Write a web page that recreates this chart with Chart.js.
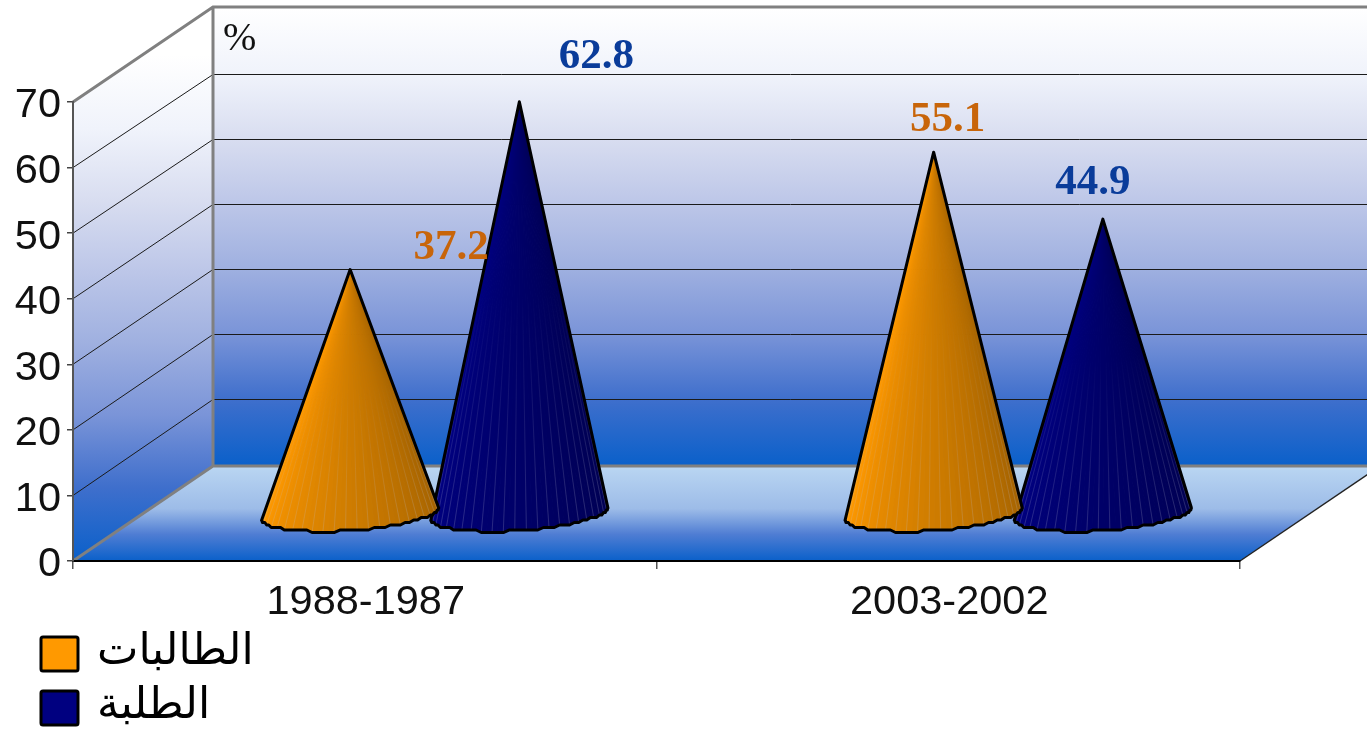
<!DOCTYPE html>
<html>
<head>
<meta charset="utf-8">
<style>html,body{margin:0;padding:0;background:#fff}canvas{display:block}</style>
<script src="https://cdn.jsdelivr.net/npm/chart.js@4/dist/chart.umd.js"></script>
</head>
<body>
<canvas id="c" width="1367" height="730"></canvas>
<script>
const categories = ['1988-1987', '2003-2002'];
const femaleLabel = 'الطالبات';
const maleLabel = 'الطلبة';
const femaleValues = [37.2, 55.1];
const maleValues = [62.8, 44.9];
const unitLabel = '%';

// 3D projection of the chart box (style only)
const DEPTH_X = 140, DEPTH_Y = -95;
const WALL_STOPS = [[0,'#FFFFFF'],[.146,'#F0F3FB'],[.288,'#D8DDF0'],[.43,'#BCC6E8'],[.57,'#9FB0E0'],[.712,'#7A94D8'],[.854,'#3F6FCC'],[1,'#0A60CA']];
const FLOOR_STOPS = [[0,'#BAD6F2'],[.45,'#9DBCE8'],[.72,'#4F7DD3'],[1,'#0A60CA']];
const LABEL_SHIFT = { '0:0':[101,-22], '1:0':[77,-45], '0:1':[14,-32], '1:1':[-10,-36] };
const LABEL_COLORS = ['#C8650A', '#0A3C9A'];

function gradient(ctx, y0, y1, stops) {
  const g = ctx.createLinearGradient(0, y0, 0, y1);
  stops.forEach(s => g.addColorStop(s[0], s[1]));
  return g;
}
function hexRgb(h) { return [1,3,5].map(i => parseInt(h.substr(i,2),16)); }

// Bars are drawn as cones standing halfway along the depth of the box.
Chart.BarElement.prototype.draw = function (ctx) {
  const { x, y, base, width } = this.getProps(['x','y','base','width']);
  const cx = x + DEPTH_X / 2, ax = cx, ay = y + DEPTH_Y / 2;
  const cy = base + DEPTH_Y / 2 + 1.5;
  const rx = width * 0.525, ry = 17.5, rot = -0.07;
  const N = 48, pts = [];
  for (let i = 0; i <= N; i++) {
    const t = Math.PI * i / N;               // right tip -> bottom -> left tip
    const ex = rx * Math.cos(t), ey = ry * Math.sin(t);
    const px = cx + ex * Math.cos(rot) - ey * Math.sin(rot);
    const py = cy + ex * Math.sin(rot) + ey * Math.cos(rot);
    pts.push([px, (i === 0 || i === N) ? py : Math.floor(py / 2.5) * 2.5 ]);
  }
  const rgb = hexRgb(this.options.backgroundColor);
  const shade = k => {
    const f = 0.62 + 0.42 * k * (1 - 0.1 * Math.sin(Math.PI * k));
    return rgb.map(c => Math.min(255, Math.round(c * f)));
  };
  ctx.save();
  for (let i = 0; i < N; i++) {
    const col = `rgb(${shade((i + .5) / N).join(',')})`;
    ctx.fillStyle = col;
    ctx.strokeStyle = col;
    ctx.lineWidth = 1;
    ctx.beginPath();
    ctx.moveTo(ax, ay);
    ctx.lineTo(pts[i][0], pts[i][1]);
    ctx.lineTo(pts[i+1][0], pts[i+1][1]);
    ctx.closePath();
    ctx.fill();
    ctx.stroke();
  }
  // faint ribs fading toward the apex
  for (let i = 1; i < N; i += 2) {
    const p = pts[i], k = 0.45;
    const g = ctx.createLinearGradient(0, ay + (p[1] - ay) * k, 0, p[1]);
    g.addColorStop(0, 'rgba(190,190,210,0)');
    g.addColorStop(1, 'rgba(190,190,210,0.22)');
    ctx.strokeStyle = g;
    ctx.lineWidth = 1;
    ctx.beginPath();
    ctx.moveTo(ax + (p[0] - ax) * k, ay + (p[1] - ay) * k);
    ctx.lineTo(p[0], p[1]);
    ctx.stroke();
  }
  ctx.beginPath();
  ctx.moveTo(ax, ay);
  pts.forEach(p => ctx.lineTo(p[0], p[1]));
  ctx.closePath();
  ctx.strokeStyle = '#000';
  ctx.lineWidth = 3;
  ctx.lineJoin = 'round';
  ctx.stroke();
  ctx.restore();
};

const boxPlugin = {
  id: 'box3d',
  beforeDraw(chart) {
    const { ctx, chartArea: a, scales: { y: ys } } = chart;
    const L = a.left, R = a.right, B = a.bottom, T = a.top;
    const BL = L + DEPTH_X, BB = B + DEPTH_Y, BT = T + DEPTH_Y, W = chart.width + 20;
    ctx.save();
    // back wall
    ctx.fillStyle = gradient(ctx, BT, BB, WALL_STOPS);
    ctx.fillRect(BL, BT, W - BL, BB - BT);
    // side wall
    ctx.fillStyle = gradient(ctx, 55, B, WALL_STOPS);
    ctx.beginPath();
    ctx.moveTo(L, T); ctx.lineTo(BL, BT); ctx.lineTo(BL, BB); ctx.lineTo(L, B);
    ctx.closePath(); ctx.fill();
    // floor
    ctx.fillStyle = gradient(ctx, BB, B, FLOOR_STOPS);
    ctx.beginPath();
    ctx.moveTo(L, B); ctx.lineTo(BL, BB); ctx.lineTo(R + DEPTH_X, BB); ctx.lineTo(R, B);
    ctx.closePath(); ctx.fill();
    // grid lines on walls
    ctx.strokeStyle = '#1a1a1a';
    ctx.lineWidth = 1;
    for (let v = 10; v <= 60; v += 10) {
      const py = ys.getPixelForValue(v);
      const by = Math.round(BB - 1 - (B - py) * 0.992) - 0.5;
      ctx.beginPath();
      ctx.moveTo(L, py); ctx.lineTo(BL, by); ctx.lineTo(W, by);
      ctx.stroke();
    }
    // wall edges
    ctx.strokeStyle = '#808080';
    ctx.lineWidth = 3;
    ctx.beginPath();
    ctx.moveTo(L, T); ctx.lineTo(BL, BT); ctx.lineTo(W, BT);
    ctx.moveTo(BL, BT); ctx.lineTo(BL, BB);
    ctx.moveTo(L, B); ctx.lineTo(BL, BB); ctx.lineTo(W, BB);
    ctx.stroke();
    // right edge of floor
    ctx.strokeStyle = '#fff'; ctx.lineWidth = 3;
    ctx.beginPath(); ctx.moveTo(R + 1, B + 1); ctx.lineTo(R + DEPTH_X + 1, BB + 1); ctx.stroke();
    ctx.strokeStyle = '#222'; ctx.lineWidth = 1.5;
    ctx.beginPath(); ctx.moveTo(R, B); ctx.lineTo(R + DEPTH_X, BB); ctx.stroke();
    ctx.restore();
  },
  afterDatasetsDraw(chart) {
    const { ctx } = chart;
    ctx.save();
    ctx.textAlign = 'center';
    ctx.textBaseline = 'middle';
    ctx.font = 'bold 43px "Liberation Serif"';
    chart.data.datasets.forEach((ds, di) => {
      chart.getDatasetMeta(di).data.forEach((el, i) => {
        const s = LABEL_SHIFT[di + ':' + i];
        ctx.fillStyle = LABEL_COLORS[di];
        ctx.fillText(ds.data[i].toFixed(1), el.x + DEPTH_X / 2 + s[0], el.y + DEPTH_Y / 2 + s[1]);
      });
    });
    // unit
    ctx.fillStyle = '#111';
    ctx.font = '40px "Liberation Serif"';
    ctx.textAlign = 'left';
    ctx.fillText(unitLabel, 223, 39);
    // legend
    const rows = [[637, 0], [691, 1]];
    rows.forEach(([top, di]) => {
      const ds = chart.data.datasets[di];
      ctx.fillStyle = ds.backgroundColor;
      ctx.strokeStyle = '#000';
      ctx.lineWidth = 3;
      ctx.beginPath();
      ctx.roundRect(41, top, 37, 34, 2);
      ctx.fill(); ctx.stroke();
      ctx.fillStyle = '#000';
      ctx.font = '44px "DejaVu Sans"';
      ctx.direction = 'rtl';
      ctx.textAlign = 'left';
      ctx.textBaseline = 'middle';
      ctx.fillText(ds.label, 97, top + 16);
      ctx.direction = 'ltr';
    });
    ctx.restore();
  }
};

new Chart(document.getElementById('c'), {
  type: 'bar',
  data: {
    labels: categories,
    datasets: [
      { label: femaleLabel, data: femaleValues, backgroundColor: '#FF9900' },
      { label: maleLabel, data: maleValues, backgroundColor: '#000080' }
    ]
  },
  plugins: [boxPlugin],
  options: {
    responsive: false,
    animation: false,
    layout: { padding: { top: 102, right: 127, left: 0, bottom: 0 } },
    datasets: { bar: { categoryPercentage: 0.58, barPercentage: 1, clip: false } },
    plugins: { legend: { display: false }, title: { display: false }, tooltip: { enabled: false } },
    scales: {
      x: {
        afterFit(s) { s.height = 169; },
        grid: { drawOnChartArea: false, color: '#555', lineWidth: 1.5, tickLength: 8 },
        border: { color: '#000', width: 2 },
        ticks: { color: '#111', font: { family: '"Liberation Sans"', size: 41.5 }, padding: 9, maxRotation: 0, labelOffset: 1 }
      },
      y: {
        min: 0, max: 70,
        afterFit(s) { s.width = 73; },
        grid: { drawOnChartArea: false, color: '#444', lineWidth: 1.5, tickLength: 6 },
        border: { color: '#555', width: 2 },
        ticks: { stepSize: 10, color: '#111', font: { family: '"Liberation Sans"', size: 41.5 }, padding: 6, labelOffset: 4 }
      }
    }
  }
});
</script>
</body>
</html>
